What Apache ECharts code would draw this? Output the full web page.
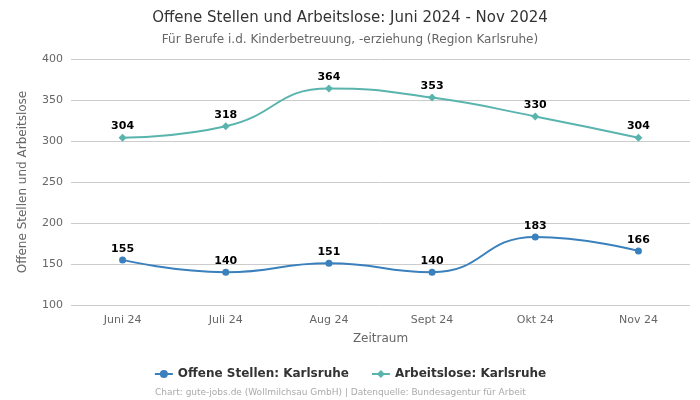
<!DOCTYPE html>
<html><head><meta charset="utf-8">
<script src="https://cdn.jsdelivr.net/npm/echarts@6/dist/echarts.min.js"></script>
<style>html,body{margin:0;padding:0;background:#fff}#c{width:700px;height:400px}</style>
</head><body><div id="c"></div>
<script>
const categories = ['Juni 24', 'Juli 24', 'Aug 24', 'Sept 24', 'Okt 24', 'Nov 24'];
const offeneStellen = [155, 140, 151, 140, 183, 166];
const arbeitslose = [304, 318, 364, 353, 330, 304];
const seriesNames = ['Offene Stellen: Karlsruhe', 'Arbeitslose: Karlsruhe'];
const yTicks = {min: 100, max: 400, interval: 50};

const font = 'DejaVu Sans';
const chart = echarts.init(document.getElementById('c'), null, {renderer: 'canvas'});
chart.setOption({
  animation: false,
  textStyle: {fontFamily: font},
  title: {
    text: 'Offene Stellen und Arbeitslose: Juni 2024 - Nov 2024',
    subtext: 'Für Berufe i.d. Kinderbetreuung, -erziehung (Region Karlsruhe)',
    left: 'center', top: 6,
    textStyle: {fontFamily: font, fontSize: 15, fontWeight: 'normal', color: '#333'},
    subtextStyle: {fontFamily: font, fontSize: 12, color: '#666'},
    itemGap: 8
  },
  legend: {
    bottom: 15, left: 'center', itemGap: 22, itemWidth: 18, itemHeight: 10,
    textStyle: {fontFamily: font, fontSize: 12, fontWeight: 'bold', color: '#333'},
    data: seriesNames
  },
  graphic: [{
    type: 'text', left: 155, bottom: 3,
    style: {text: 'Chart: gute-jobs.de (Wollmilchsau GmbH) | Datenquelle: Bundesagentur für Arbeit',
      fontFamily: font, fontSize: 9, fill: '#aaa'}
  }],
  grid: {left: 71, right: 10, top: 59, bottom: 95},
  xAxis: {
    type: 'category', data: categories, boundaryGap: true,
    name: 'Zeitraum', nameLocation: 'middle', nameGap: 28,
    nameTextStyle: {fontFamily: font, fontSize: 12, color: '#666'},
    axisLine: {show: false}, axisTick: {show: false},
    axisLabel: {fontFamily: font, fontSize: 11, color: '#666', margin: 10}
  },
  yAxis: {
    type: 'value', min: yTicks.min, max: yTicks.max, interval: yTicks.interval,
    name: 'Offene Stellen und Arbeitslose', nameLocation: 'middle', nameGap: 42,
    nameTextStyle: {fontFamily: font, fontSize: 12, color: '#666'},
    axisLabel: {fontFamily: font, fontSize: 11, color: '#666'},
    splitLine: {lineStyle: {color: '#ccc'}}
  },
  series: [
    {
      name: seriesNames[0], type: 'line', data: offeneStellen, smooth: true,
      symbol: 'circle', symbolSize: 7,
      itemStyle: {color: '#3a80bd'}, lineStyle: {width: 2},
      label: {show: true, position: 'top', fontFamily: font, fontSize: 11, fontWeight: 'bold', color: '#000', distance: 2}
    },
    {
      name: seriesNames[1], type: 'line', data: arbeitslose, smooth: true,
      symbol: 'diamond', symbolSize: 8,
      itemStyle: {color: '#5ab4ae'}, lineStyle: {width: 2},
      label: {show: true, position: 'top', fontFamily: font, fontSize: 11, fontWeight: 'bold', color: '#000', distance: 2}
    }
  ]
});
</script></body></html>
